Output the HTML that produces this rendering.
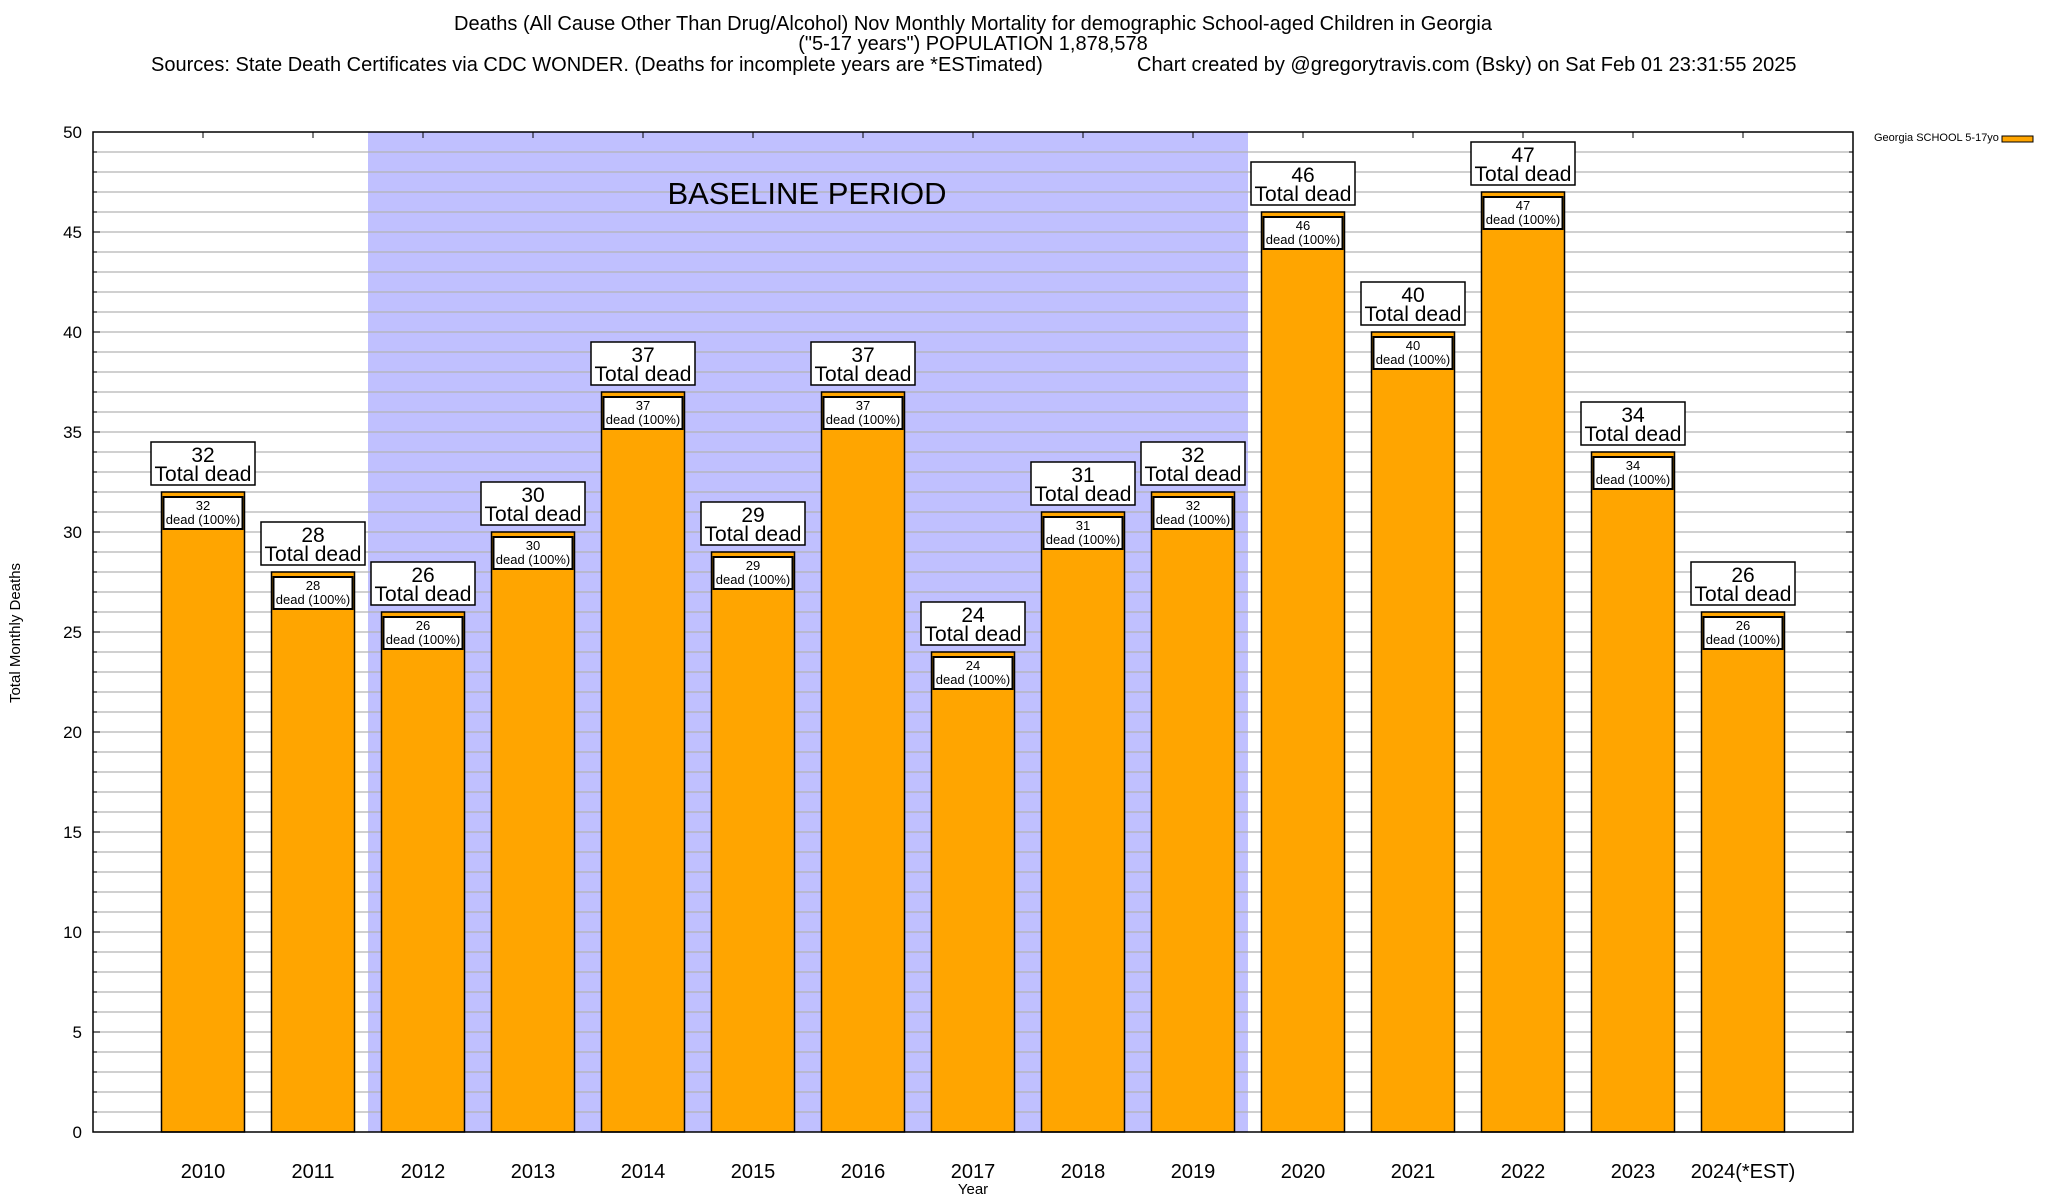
<!DOCTYPE html>
<html><head><meta charset="utf-8"><style>
html,body{margin:0;padding:0;background:#fff;}
svg{display:block;font-family:"Liberation Sans",Arial,sans-serif;}
</style></head><body>
<svg id="chart" width="2048" height="1200" viewBox="0 0 2048 1200">
<g font-size="20" text-anchor="middle">
<text x="973" y="30">Deaths (All Cause Other Than Drug/Alcohol) Nov Monthly Mortality for demographic School-aged Children in Georgia</text>
<text x="973" y="50">("5-17 years") POPULATION 1,878,578</text>
<text x="151" y="71" text-anchor="start">Sources: State Death Certificates via CDC WONDER. (Deaths for incomplete years are *ESTimated)</text>
<text x="1137" y="71" text-anchor="start">Chart created by @gregorytravis.com (Bsky) on Sat Feb 01 23:31:55 2025</text>
</g>
<g id="plot"></g>
</svg>
<script>
const categories=["2010","2011","2012","2013","2014","2015","2016","2017","2018","2019","2020","2021","2022","2023","2024(*EST)"];
const deaths=[32,28,26,30,37,29,37,24,31,32,46,40,47,34,26];
const yTicks=[0,5,10,15,20,25,30,35,40,45,50];
const baselineRange=[1.5,9.5];
const L=93,R=1853,T=132,B=1132,yMax=50;
const xs=i=>L+(R-L)*(i+1)/(categories.length+1);
const ys=v=>B-(B-T)*v/yMax;
const NS="http://www.w3.org/2000/svg";
const plot=document.getElementById('plot');
function mk(tag,attrs,parent,text){const e=document.createElementNS(NS,tag);for(const k in attrs)e.setAttribute(k,attrs[k]);if(text!==undefined)e.textContent=text;(parent||plot).appendChild(e);return e;}
const bx0=xs(baselineRange[0]),bx1=xs(baselineRange[1]);
const shade=mk('rect',{x:bx0,y:T,width:bx1-bx0,height:B-T,fill:'#c0c0ff'});


for(let v=1;v<yMax;v++){
 const g=mk('line',{x1:L,x2:R,y1:ys(v),y2:ys(v),stroke:'#b4b4b4','stroke-width':1.2});
 
 
 mk('line',{x1:L,x2:L+(v%5?4:7),y1:ys(v),y2:ys(v),stroke:'#000'});
 mk('line',{x1:R,x2:R-(v%5?4:7),y1:ys(v),y2:ys(v),stroke:'#000'});
}
const bt=mk('text',{x:807,y:204,'font-size':31,'text-anchor':'middle'},plot,'BASELINE PERIOD');


yTicks.forEach(v=>{
 const t=mk('text',{x:82,y:ys(v)+6,'font-size':17,'text-anchor':'end'},plot,String(v));
 
 
});
categories.forEach((c,i)=>{
 const cx=xs(i),w=83,v=deaths[i],yt=ys(v);
 const g=mk('g',{});
 
 
 mk('rect',{x:cx-w/2,y:yt,width:w,height:B-yt,fill:'#ffa500',stroke:'#000','stroke-width':1.5},g);
 mk('rect',{x:cx-w/2+2,y:yt+5,width:w-4,height:32,fill:'#fff',stroke:'#000','stroke-width':2},g);
 mk('text',{x:cx,y:yt+18,'font-size':13,'text-anchor':'middle'},g,String(v));
 mk('text',{x:cx,y:yt+32,'font-size':13,'text-anchor':'middle'},g,'dead (100%)');
 const lb=mk('g',{});
 
 
 mk('rect',{x:cx-52,y:yt-50,width:104,height:43,fill:'#fff',stroke:'#000','stroke-width':1.5},lb);
 mk('text',{x:cx,y:yt-30,'font-size':21,'text-anchor':'middle'},lb,String(v));
 mk('text',{x:cx,y:yt-11,'font-size':21,'text-anchor':'middle'},lb,'Total dead');
 mk('line',{x1:cx,x2:cx,y1:T,y2:T+6,stroke:'#000'});
 const xl=mk('text',{x:cx,y:1178,'font-size':20,'text-anchor':'middle'},plot,c);
 
 
});
const fr=mk('rect',{x:L,y:T,width:R-L,height:B-T,fill:'none',stroke:'#000','stroke-width':1.5});


const xt=mk('text',{x:973,y:1194,'font-size':15,'text-anchor':'middle'},plot,'Year');


const yt=mk('text',{x:20,y:633,'font-size':15,'text-anchor':'middle',transform:'rotate(-90 20 633)'},plot,'Total Monthly Deaths');


const lg=mk('g',{});


mk('text',{x:1874,y:141,'font-size':11},lg,'Georgia SCHOOL 5-17yo');
mk('rect',{x:2002,y:136,width:31,height:6,fill:'#ffa500',stroke:'#000','stroke-width':1},lg);
</script>
</body></html>
